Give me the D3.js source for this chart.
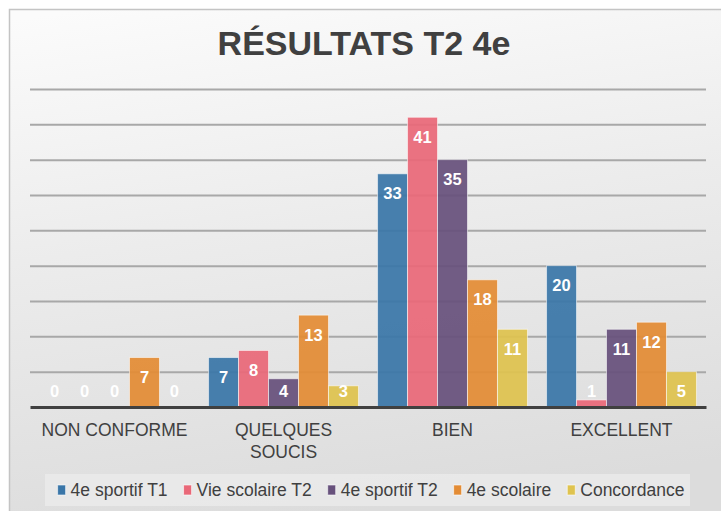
<!DOCTYPE html>
<html><head><meta charset="utf-8">
<script src="https://cdn.jsdelivr.net/npm/d3@7"></script>
<style>
html,body{margin:0;padding:0;background:#ffffff;}
svg{display:block;font-family:"Liberation Sans",Arial,Helvetica,sans-serif;}
</style></head>
<body>
<svg id="chart" width="721" height="511"></svg>
<script>
const title = "RÉSULTATS T2 4e";
const categories = ["NON CONFORME", "QUELQUES SOUCIS", "BIEN", "EXCELLENT"];
const seriesNames = ["4e sportif T1", "Vie scolaire T2", "4e sportif T2", "4e scolaire", "Concordance"];
const seriesColors = ["#3a76a8", "#e96878", "#67517c", "#e38c35", "#dfc34f"];
const s1 = [0, 7, 33, 20];   // 4e sportif T1
const s2 = [0, 8, 41, 1];    // Vie scolaire T2
const s3 = [0, 4, 35, 11];   // 4e sportif T2
const s4 = [7, 13, 18, 12];  // 4e scolaire
const s5 = [0, 3, 11, 5];    // Concordance
const seriesValues = [s1, s2, s3, s4, s5];
const gridTicks = [5, 10, 15, 20, 25, 30, 35, 40, 45];

const svg = d3.select("#chart");
const W = 721, H = 511;

// background gradient
const defs = svg.append("defs");
const bg = defs.append("linearGradient").attr("id", "bg")
  .attr("x1", "0.1").attr("y1", "0").attr("x2", "0.3").attr("y2", "1");
bg.append("stop").attr("offset", "0").attr("stop-color", "#fbfbfb");
bg.append("stop").attr("offset", "0.45").attr("stop-color", "#ececec");
bg.append("stop").attr("offset", "1").attr("stop-color", "#dcdcdc");

svg.append("rect").attr("x", 0).attr("y", 0).attr("width", W).attr("height", H).attr("fill", "#ffffff");
svg.append("rect").attr("x", 9.5).attr("y", 9.5).attr("width", W + 10).attr("height", H + 10)
  .attr("fill", "url(#bg)").attr("stroke", "#c4c4c4").attr("stroke-width", 1.5);

// title
svg.append("text").attr("x", 364).attr("y", 55)
  .attr("text-anchor", "middle").attr("font-size", 34).attr("font-weight", "bold")
  .attr("fill", "#404040").text(title);

const plot = {left: 30, right: 706, top: 89, bottom: 407};

const x0 = d3.scaleBand().domain(categories).range([plot.left, plot.right]).paddingInner(0.113).paddingOuter(0.0565);
const x1 = d3.scaleBand().domain(d3.range(seriesNames.length)).range([0, x0.bandwidth()]).padding(0);
const y = d3.scaleLinear().domain([0, 45]).range([plot.bottom, plot.top]);

// gridlines
const grid = svg.append("g").attr("transform", `translate(${plot.left},0)`)
  .call(d3.axisLeft(y).tickValues(gridTicks).tickSize(-(plot.right - plot.left)).tickFormat(""));
grid.select(".domain").remove();
grid.selectAll(".tick line").attr("stroke", "#a8a8a8").attr("stroke-width", 2);

// bars
const groups = svg.append("g").selectAll("g").data(categories).join("g")
  .attr("transform", d => `translate(${x0(d)},0)`);

groups.each(function(cat, ci) {
  const g = d3.select(this);
  const data = seriesValues.map((vals, si) => ({si, v: vals[ci]}));
  g.selectAll("rect").data(data).join("rect")
    .attr("x", d => x1(d.si))
    .attr("y", d => y(d.v))
    .attr("width", x1.bandwidth())
    .attr("height", d => plot.bottom - y(d.v))
    .attr("fill", d => seriesColors[d.si])
    .attr("fill-opacity", 0.93)
    .attr("stroke", "rgba(255,255,255,0.55)")
    .attr("stroke-width", 1);
  g.selectAll("text").data(data).join("text")
    .attr("x", d => x1(d.si) + x1.bandwidth() / 2)
    .attr("y", d => Math.min(y(d.v) + 19.5, 391))
    .attr("dy", "0.36em")
    .attr("text-anchor", "middle")
    .attr("font-size", 16.5).attr("font-weight", "bold")
    .attr("fill", "#ffffff")
    .text(d => d.v);
});

// x axis
const xAxis = svg.append("g").attr("transform", `translate(0,${plot.bottom})`)
  .call(d3.axisBottom(x0).tickSize(0).tickSizeOuter(0));
xAxis.select(".domain").attr("stroke", "#404040").attr("stroke-width", 3);
xAxis.selectAll(".tick text").attr("font-size", 17.5).attr("fill", "#404040")
  .attr("font-family", "Liberation Sans, Arial, sans-serif")
  .attr("dy", null).attr("y", null)
  .each(function(d) {
    const t = d3.select(this);
    const words = d.split(" ");
    t.text(null);
    const maxW = 150;
    let lines = [], cur = [];
    words.forEach(w => {
      cur.push(w);
      t.text(cur.join(" "));
      if (this.getComputedTextLength() > maxW && cur.length > 1) {
        cur.pop(); lines.push(cur.join(" ")); cur = [w];
      }
    });
    lines.push(cur.join(" "));
    t.text(null);
    lines.forEach((ln, i) => {
      t.append("tspan").attr("x", 0).attr("y", 23 + i * 21.5).attr("dy", "0.36em").text(ln);
    });
  });

// legend
const legend = svg.append("g");
legend.append("rect").attr("x", 45).attr("y", 474).attr("width", 645).attr("height", 32)
  .attr("fill", "#ebebeb").attr("fill-opacity", 0.8);
const items = legend.selectAll("g.item").data(seriesNames).join("g").attr("class", "item");
items.append("rect").attr("width", 8).attr("height", 10).attr("y", 485)
  .attr("fill", (d, i) => seriesColors[i]).attr("stroke", "rgba(255,255,255,0.6)").attr("stroke-width", 1);
items.append("text").attr("y", 490).attr("dy", "0.36em").attr("font-size", 17.5).attr("fill", "#404040").text(d => d);
let widths = [];
items.each(function() { widths.push(d3.select(this).select("text").node().getComputedTextLength()); });
const markerW = 8, gapMT = 5, gapItem = 16;
const total = d3.sum(widths) + widths.length * (markerW + gapMT) + (widths.length - 1) * gapItem;
let cx = 371 - total / 2;
items.each(function(d, i) {
  const g = d3.select(this);
  g.select("rect").attr("x", cx);
  g.select("text").attr("x", cx + markerW + gapMT);
  cx += markerW + gapMT + widths[i] + gapItem;
});
</script>
</body></html>
